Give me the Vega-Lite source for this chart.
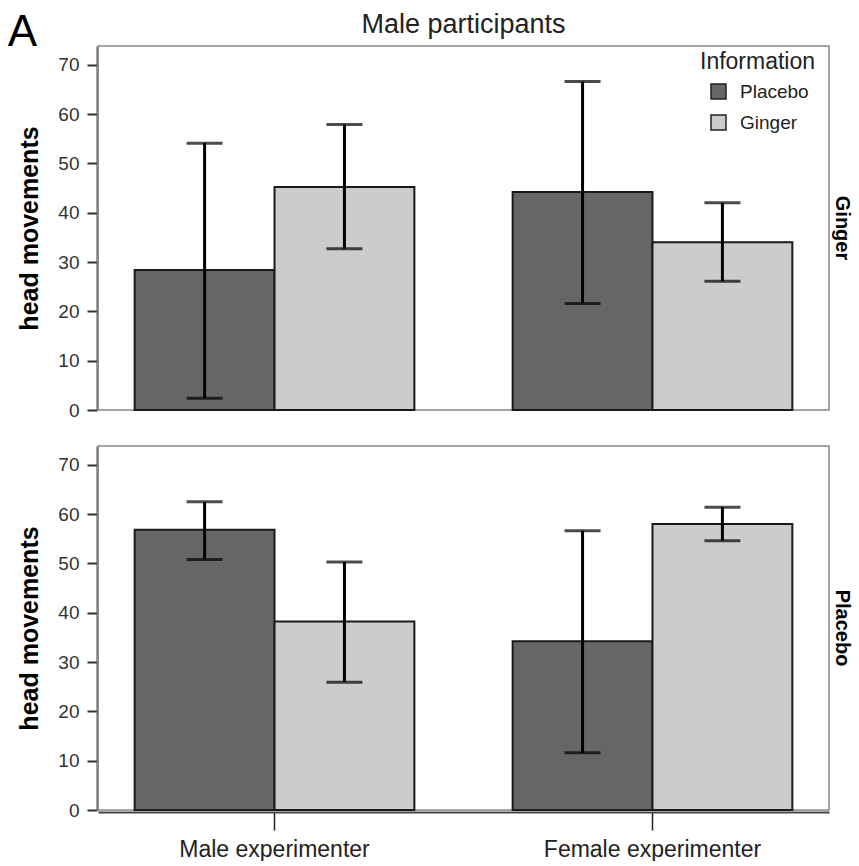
{
  "$schema": "https://vega.github.io/schema/vega-lite/v6.json",
  "padding": {"left": 7, "top": 11, "right": 0, "bottom": 0},
  "background": "white",
  "title": {"text": "A", "anchor": "start", "frame": "bounds", "fontSize": 44, "fontWeight": "normal", "font": "Liberation Sans", "color": "#000", "offset": -44, "dx": -10},
  "data": {"values": [
    {"Condition": "Ginger", "Experimenter": "Male experimenter", "Information": "Placebo", "mean": 28.4, "lo": 2.4, "hi": 54.1, "Group": "Male participants"},
    {"Condition": "Ginger", "Experimenter": "Male experimenter", "Information": "Ginger", "mean": 45.2, "lo": 32.7, "hi": 57.9, "Group": "Male participants"},
    {"Condition": "Ginger", "Experimenter": "Female experimenter", "Information": "Placebo", "mean": 44.2, "lo": 21.6, "hi": 66.6, "Group": "Male participants"},
    {"Condition": "Ginger", "Experimenter": "Female experimenter", "Information": "Ginger", "mean": 34.0, "lo": 26.1, "hi": 42.0, "Group": "Male participants"},
    {"Condition": "Placebo", "Experimenter": "Male experimenter", "Information": "Placebo", "mean": 56.8, "lo": 50.8, "hi": 62.5, "Group": "Male participants"},
    {"Condition": "Placebo", "Experimenter": "Male experimenter", "Information": "Ginger", "mean": 38.2, "lo": 25.9, "hi": 50.3, "Group": "Male participants"},
    {"Condition": "Placebo", "Experimenter": "Female experimenter", "Information": "Placebo", "mean": 34.2, "lo": 11.6, "hi": 56.6, "Group": "Male participants"},
    {"Condition": "Placebo", "Experimenter": "Female experimenter", "Information": "Ginger", "mean": 58.0, "lo": 54.6, "hi": 61.4, "Group": "Male participants"}
  ]},
  "facet": {
    "row": {"field": "Condition", "type": "nominal", "sort": ["Ginger", "Placebo"], "title": null,
      "header": {"labelOrient": "right", "labelAngle": 90, "labelFontWeight": "bold", "labelFontSize": 20, "labelFont": "Liberation Sans", "labelColor": "#000", "labelPadding": 2}},
    "column": {"field": "Group", "type": "nominal", "title": null,
      "header": {"labelFontSize": 27, "labelFont": "Liberation Sans", "labelColor": "#222", "labelPadding": 6}}
  },
  "spacing": {"row": 33, "column": 0},
  "spec": {
    "width": 731,
    "height": 364,
    "encoding": {
      "x": {"field": "Experimenter", "type": "nominal", "sort": ["Male experimenter", "Female experimenter"],
        "scale": {"paddingInner": 0.26, "paddingOuter": 0.097},
        "axis": {"title": null, "labelAngle": 0, "labelLimit": 0, "labelFontSize": 23, "labelFont": "Liberation Sans", "labelColor": "#222", "tickSize": 18, "tickWidth": 1.5, "tickColor": "#222", "domainColor": "#444", "domainWidth": 2, "labelPadding": 8}},
      "xOffset": {"field": "Information", "type": "nominal", "sort": ["Placebo", "Ginger"], "scale": {"paddingInner": 0, "paddingOuter": 0}}
    },
    "layer": [
      {
        "mark": {"type": "bar", "stroke": "#1a1a1a", "strokeWidth": 2},
        "encoding": {
          "y": {"field": "mean", "type": "quantitative", "scale": {"domain": [0, 73.8], "nice": false},
            "axis": {"title": "head movements", "values": [0, 10, 20, 30, 40, 50, 60, 70], "grid": false, "titleFontSize": 25, "titleFontWeight": "bold", "titleFont": "Liberation Sans", "titleColor": "#000", "titlePadding": 15, "labelFontSize": 19, "labelFont": "Liberation Sans", "labelColor": "#333", "tickSize": 10, "tickWidth": 2, "tickColor": "#333", "domainColor": "#555", "domainWidth": 2, "labelPadding": 8}},
          "color": {"field": "Information", "type": "nominal", "sort": ["Placebo", "Ginger"],
            "scale": {"domain": ["Placebo", "Ginger"], "range": ["#666666", "#cccccc"]},
            "legend": {"title": "Information", "orient": "none", "legendX": 602, "legendY": 5, "titleFontSize": 23, "titleFontWeight": "normal", "titleFont": "Liberation Sans", "titleColor": "#222", "labelFontSize": 19, "labelFont": "Liberation Sans", "labelColor": "#222", "labelOffset": 12, "symbolType": "square", "symbolSize": 225, "symbolStrokeColor": "#222", "symbolStrokeWidth": 1.5, "rowPadding": 10, "symbolOffset": 9, "titlePadding": 8}}
        }
      },
      {
        "mark": {"type": "rule", "color": "#000", "strokeWidth": 3},
        "encoding": {"y": {"field": "lo", "type": "quantitative"}, "y2": {"field": "hi"}}
      },
      {
        "mark": {"type": "tick", "color": "#000", "thickness": 3, "size": 36, "orient": "horizontal"},
        "encoding": {"y": {"field": "lo", "type": "quantitative"}}
      },
      {
        "mark": {"type": "tick", "color": "#000", "thickness": 3, "size": 36, "orient": "horizontal"},
        "encoding": {"y": {"field": "hi", "type": "quantitative"}}
      }
    ]
  },
  "config": {
    "view": {"stroke": "#888", "strokeWidth": 1.5},
    "font": "Liberation Sans"
  }
}
